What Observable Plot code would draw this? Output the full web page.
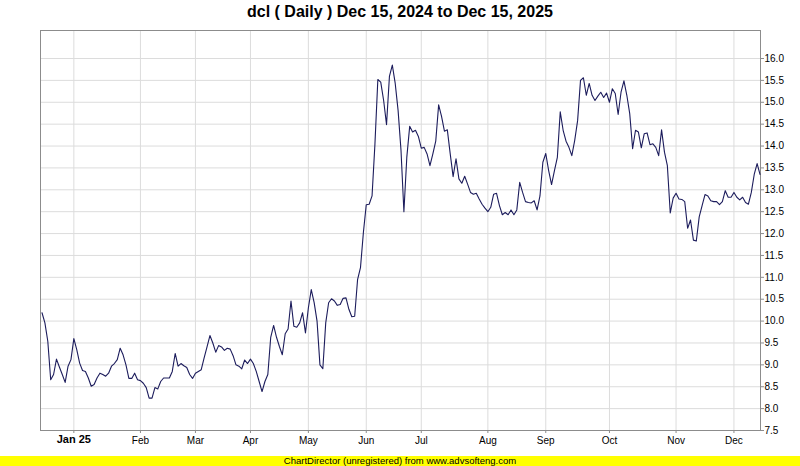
<!DOCTYPE html>
<html>
<head>
<meta charset="utf-8">
<script src="https://cdn.jsdelivr.net/npm/d3@7"></script>
<script src="https://cdn.jsdelivr.net/npm/@observablehq/plot@0.6"></script>
<style>
  html, body { margin: 0; padding: 0; background: #fff; }
  #wrap { position: relative; width: 800px; height: 466px; overflow: hidden; font-family: "Liberation Sans", Arial, sans-serif; }
  #title { position: absolute; left: 0; top: 3px; width: 800px; text-align: center; font-size: 16px; font-weight: bold; line-height: 18px; color: #000; }
  #footer { position: absolute; left: 0; top: 456px; width: 800px; height: 10px; background: #ffff00; text-align: center; font-size: 9.5px; line-height: 10px; color: #000; }
  #chart { position: absolute; left: 0; top: 0; }
</style>
</head>
<body>
<div id="wrap">
  <div id="chart"></div>
  <div id="title">dcl ( Daily ) Dec 15, 2024 to Dec 15, 2025</div>
  <div id="footer">ChartDirector (unregistered) from www.advsofteng.com</div>
</div>
<script>
// Daily closing prices, in trading-day order
const closes = [
  10.19, 9.96, 9.54, 8.66, 8.78, 9.13, 8.95, 8.78, 8.60, 8.97,
  9.12, 9.60, 9.35, 9.04, 8.87, 8.85, 8.70, 8.51, 8.55, 8.70,
  8.81, 8.78, 8.74, 8.81, 8.97, 9.03, 9.12, 9.38, 9.23, 9.00,
  8.69, 8.69, 8.81, 8.66, 8.64, 8.58, 8.48, 8.24, 8.24, 8.48,
  8.45, 8.62, 8.70, 8.70, 8.70, 8.85, 9.26, 8.97, 9.03, 8.98,
  8.94, 8.78, 8.69, 8.81, 8.85, 8.89, 9.16, 9.41, 9.67, 9.50,
  9.29, 9.44, 9.41, 9.33, 9.38, 9.36, 9.21, 9.00, 8.97, 8.91,
  9.11, 9.03, 9.13, 9.03, 8.85, 8.62, 8.39, 8.62, 8.78, 9.63,
  9.90, 9.63, 9.42, 9.23, 9.71, 9.82, 10.46, 9.88, 9.86, 9.96,
  10.19, 9.73, 10.30, 10.72, 10.42, 10.00, 9.00, 8.91, 9.96, 10.42,
  10.51, 10.46, 10.36, 10.38, 10.52, 10.53, 10.27, 10.10, 10.11, 10.95,
  11.22, 12.02, 12.66, 12.67, 12.86, 14.05, 15.52, 15.46, 15.04, 14.49,
  15.59, 15.85, 15.43, 14.81, 13.90, 12.50, 13.74, 14.45, 14.32, 14.36,
  14.22, 13.95, 13.97, 13.82, 13.55, 13.82, 14.11, 14.94, 14.68, 14.34,
  14.37, 13.82, 13.30, 13.71, 13.25, 13.15, 13.31, 13.13, 12.94, 12.90,
  12.92, 12.79, 12.67, 12.58, 12.50, 12.60, 12.90, 12.92, 12.64, 12.43,
  12.48, 12.43, 12.54, 12.43, 12.54, 13.17, 12.94, 12.73, 12.71, 12.70,
  12.75, 12.54, 12.86, 13.63, 13.83, 13.44, 13.12, 13.44, 13.74, 14.78,
  14.36, 14.11, 13.97, 13.78, 14.13, 14.58, 15.50, 15.56, 15.16, 15.43,
  15.16, 15.04, 15.14, 15.23, 15.11, 15.21, 15.00, 15.31, 15.20, 14.72,
  15.23, 15.49, 15.16, 14.74, 13.94, 14.36, 14.32, 13.96, 14.28, 14.30,
  14.03, 14.05, 13.97, 13.78, 14.37, 13.86, 13.55, 12.47, 12.81, 12.92,
  12.79, 12.78, 12.73, 12.12, 12.31, 11.85, 11.83, 12.38, 12.64, 12.89,
  12.86, 12.75, 12.73, 12.73, 12.66, 12.73, 12.98, 12.83, 12.83, 12.94,
  12.83, 12.77, 12.83, 12.71, 12.67, 12.94, 13.35, 13.60, 13.35
];

// First trading day of each month (index into closes) and its label
const monthIndex  = [11, 34, 53, 72, 92, 112, 131, 154, 174, 196, 219, 239];
const monthLabels = ["Jan 25", "Feb", "Mar", "Apr", "May", "Jun", "Jul", "Aug", "Sep", "Oct", "Nov", "Dec"];
const monthBold   = [true, false, false, false, false, false, false, false, false, false, false, false];

// Price axis ticks
const yTicks = [7.5, 8.0, 8.5, 9.0, 9.5, 10.0, 10.5, 11.0, 11.5, 12.0, 12.5, 13.0, 13.5, 14.0, 14.5, 15.0, 15.5, 16.0];

const series = closes.map((v, i) => ({i, v}));
const months = monthIndex.map((i, k) => ({i, label: monthLabels[k], bold: monthBold[k]}));

const chart = Plot.plot({
  width: 800,
  height: 466,
  marginLeft: 40,
  marginRight: 40,
  marginTop: 30,
  marginBottom: 36,
  style: {fontFamily: "'Liberation Sans', Arial, sans-serif", fontSize: "10px", color: "#000", background: "transparent"},
  x: {domain: [-0.52, 248.17], axis: null},
  y: {domain: [7.5, 16.64], axis: null},
  marks: [
    Plot.gridY(yTicks, {stroke: "#dcdcdc", strokeOpacity: 1}),
    Plot.gridX(monthIndex, {stroke: "#dcdcdc", strokeOpacity: 1}),
    Plot.frame({stroke: "#8c8c8c"}),
    Plot.axisY(yTicks, {anchor: "right", label: null, tickSize: 3, tickPadding: 1, stroke: "#8c8c8c", tickFormat: d3.format(".1f"), fill: "#000"}),
    Plot.axisX(monthIndex, {anchor: "bottom", label: null, tickSize: 3, stroke: "#8c8c8c", tickFormat: () => ""}),
    Plot.text(months.filter(d => !d.bold), {x: "i", text: "label", frameAnchor: "bottom", lineAnchor: "top", dy: 6, fontSize: 10, fill: "#000"}),
    Plot.text(months.filter(d => d.bold), {x: "i", text: "label", frameAnchor: "bottom", lineAnchor: "top", dy: 5, fontSize: 11, fontWeight: "bold", fill: "#000"}),
    Plot.line(series, {x: "i", y: "v", stroke: "#1c1c5c", strokeWidth: 1.1})
  ]
});
document.getElementById("chart").appendChild(chart);
</script>
</body>
</html>
